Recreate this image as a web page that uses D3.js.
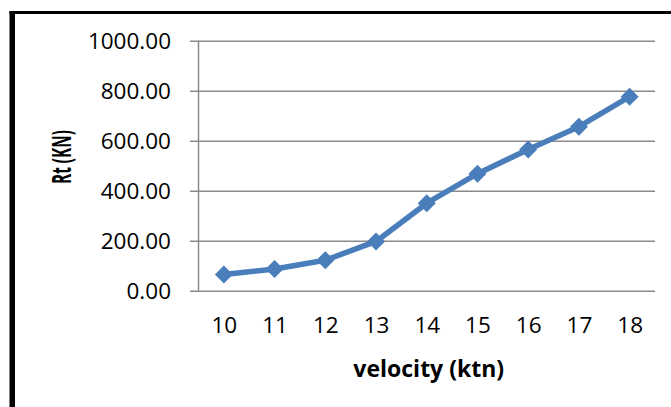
<!DOCTYPE html>
<html>
<head>
<meta charset="utf-8">
<script src="https://cdn.jsdelivr.net/npm/d3@7"></script>
<style>
  html, body { margin: 0; padding: 0; background: #fff; }
  svg { display: block; }
</style>
</head>
<body>
<svg id="chart" width="671" height="407"></svg>
<script>
const categories = ["10", "11", "12", "13", "14", "15", "16", "17", "18"];
const rtValues = [65, 87, 122, 197, 350, 468, 565, 656, 776];
const yTicks = [0, 200, 400, 600, 800, 1000];
const xTitle = "velocity (ktn)";
const yTitle = "Rt (KN)";

const svg = d3.select("#chart");
const W = 671, H = 407;
const plot = { left: 198.5, right: 655, top: 40.7, bottom: 290.7 };

svg.append("rect").attr("width", W).attr("height", H).attr("fill", "#fff");

// border
svg.append("line").attr("x1", 9.5).attr("x2", W).attr("y1", 12.5).attr("y2", 12.5)
  .attr("stroke", "#000").attr("stroke-width", 3);
svg.append("line").attr("x1", 12.25).attr("x2", 12.25).attr("y1", 11).attr("y2", H)
  .attr("stroke", "#000").attr("stroke-width", 5.5);

const x = d3.scalePoint().domain(categories).range([plot.left, plot.right]).padding(0.5);
const y = d3.scaleLinear().domain([0, 1000]).range([plot.bottom, plot.top]);

const gridColor = "#8a8a8a";

// y axis with gridlines
const yAxis = d3.axisLeft(y).tickValues(yTicks)
  .tickSize(-(plot.right - plot.left))
  .tickFormat(d3.format(".2f"));
const gy = svg.append("g").attr("transform", `translate(${plot.left},0)`).call(yAxis);
gy.select(".domain").remove();
gy.selectAll(".tick line").attr("stroke", gridColor).attr("stroke-width", 1.5)
  .attr("x1", -8.5);
gy.selectAll(".tick text")
  .attr("x", -27.5).attr("dy", "0.36em")
  .attr("fill", "#000")
  .style("font-family", "'Open Sans', sans-serif").style("font-size", "22.5px");

// vertical axis line
svg.append("line").attr("x1", plot.left).attr("x2", plot.left)
  .attr("y1", plot.top).attr("y2", plot.bottom)
  .attr("stroke", gridColor).attr("stroke-width", 1.5);

// x axis labels
const xAxis = d3.axisBottom(x).tickSize(0);
const gx = svg.append("g").attr("transform", `translate(0,${plot.bottom})`).call(xAxis);
gx.select(".domain").remove();
gx.selectAll(".tick text")
  .attr("y", 34.5).attr("dy", "0.36em")
  .attr("fill", "#000")
  .style("font-family", "'Open Sans', sans-serif").style("font-size", "22.5px");

// line
const lineGen = d3.line().x((d, i) => x(categories[i])).y(d => y(d));
svg.append("path").datum(rtValues).attr("d", lineGen)
  .attr("fill", "none").attr("stroke", "#4a7ebb").attr("stroke-width", 5.5)
  .attr("stroke-linejoin", "round");

// diamond markers
const r = 9;
svg.selectAll(".mk").data(rtValues).join("path")
  .attr("class", "mk")
  .attr("d", `M0,${-r}L${r},0L0,${r}L${-r},0Z`)
  .attr("transform", (d, i) => `translate(${x(categories[i])},${y(d)})`)
  .attr("fill", "#4a7ebb");

// axis titles
svg.append("text").text(xTitle)
  .attr("x", (plot.left + plot.right) / 2 + 2).attr("y", 377)
  .attr("text-anchor", "middle")
  .style("font-family", "'Open Sans', sans-serif").style("font-weight", "bold")
  .style("font-size", "23px").attr("fill", "#000");

svg.append("text").text(yTitle)
  .attr("transform", "translate(71,157) rotate(-90)")
  .attr("text-anchor", "middle")
  .attr("textLength", 54).attr("lengthAdjust", "spacingAndGlyphs")
  .style("font-family", "'Open Sans', sans-serif").style("font-weight", "bold")
  .style("font-size", "26px").attr("fill", "#000");
</script>
</body>
</html>
